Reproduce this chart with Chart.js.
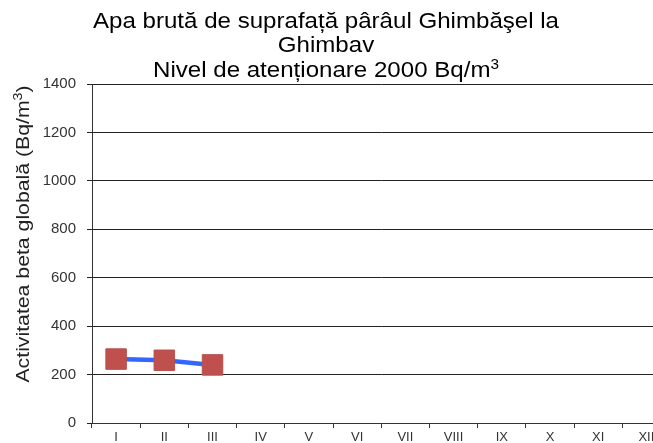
<!DOCTYPE html>
<html>
<head>
<meta charset="utf-8">
<script src="https://cdn.jsdelivr.net/npm/chart.js@4.4.1/dist/chart.umd.min.js"></script>
<style>
    html, body { margin: 0; padding: 0; background: #fff; overflow: hidden; }
    #wrap { width: 686px; height: 443px; position: relative; }
</style>
</head>
<body>
<div id="wrap">
    <canvas id="chart"></canvas>
</div>
<script>
// Chart data
const months = ['I', 'II', 'III', 'IV', 'V', 'VI', 'VII', 'VIII', 'IX', 'X', 'XI', 'XII'];
const betaValues = [264, 259, 240, null, null, null, null, null, null, null, null, null];
const yTicks = [0, 200, 400, 600, 800, 1000, 1200, 1400];

const titleLines = [
    'Apa brută de suprafață pârâul Ghimbăşel la',
    'Ghimbav',
    'Nivel de atenționare 2000 Bq/m'
];
const yLabel = 'Activitatea beta globală (Bq/m';

const FONT = '"Liberation Sans", Arial, sans-serif';

// draw text with an optional superscript, horizontally stretched like the original picture
function drawStretched(ctx, text, sup, size, supSize, supRise, stretch) {
    ctx.font = size + 'px ' + FONT;
    const w = ctx.measureText(text).width;
    let supW = 0;
    let tail = '';
    let tailW = 0;
    if (sup) {
        ctx.font = supSize + 'px ' + FONT;
        supW = ctx.measureText(sup.text).width;
        tail = sup.tail || '';
        ctx.font = size + 'px ' + FONT;
        tailW = ctx.measureText(tail).width;
    }
    ctx.scale(stretch, 1);
    let x = -(w + supW + tailW) / 2;
    ctx.textAlign = 'left';
    ctx.font = size + 'px ' + FONT;
    ctx.fillText(text, x, 0);
    if (sup) {
        x += w;
        ctx.font = supSize + 'px ' + FONT;
        ctx.fillText(sup.text, x, -supRise);
        x += supW;
        ctx.font = size + 'px ' + FONT;
        if (tail) ctx.fillText(tail, x, 0);
    }
}

// Title block and rotated y label (both need a superscript 3)
const textPlugin = {
    id: 'textPlugin',
    afterDraw(chart) {
        const ctx = chart.ctx;
        const cx = 326;
        const baselines = [28, 52, 77];

        titleLines.forEach((line, i) => {
            ctx.save();
            ctx.fillStyle = '#000';
            ctx.translate(cx, baselines[i]);
            drawStretched(ctx, line, i === 2 ? { text: '3' } : null, 22, 14, 8, 1.095);
            ctx.restore();
        });

        // y axis label
        ctx.save();
        ctx.fillStyle = '#222';
        ctx.translate(29, 234);
        ctx.rotate(-Math.PI / 2);
        drawStretched(ctx, yLabel, { text: '3', tail: ')' }, 18, 12, 7, 1.18);
        ctx.restore();
    }
};

const ctx = document.getElementById('chart').getContext('2d');

new Chart(ctx, {
    type: 'line',
    data: {
        labels: months,
        datasets: [{
            data: betaValues,
            borderColor: '#3366FF',
            borderWidth: 4.5,
            backgroundColor: '#C0504D',
            pointBackgroundColor: '#C0504D',
            pointBorderColor: '#B5524F',
            pointBorderWidth: 1,
            pointStyle: 'rect',
            pointRadius: 14.5,
            pointHoverRadius: 14.5,
            tension: 0,
            fill: false
        }]
    },
    options: {
        responsive: true,
        maintainAspectRatio: false,
        animation: false,
        events: [],
        layout: {
            padding: { top: 84, right: 5, bottom: 0, left: 0 }
        },
        plugins: {
            legend: { display: false },
            title: { display: false },
            tooltip: { enabled: false }
        },
        scales: {
            x: {
                offset: true,
                grid: {
                    offset: true,
                    drawOnChartArea: false,
                    tickLength: 5,
                    color: '#333'
                },
                border: { color: '#333', width: 1 },
                ticks: {
                    color: '#333',
                    padding: 2,
                    autoSkip: false,
                    maxRotation: 0,
                    font: { family: FONT, size: 13 }
                },
                afterFit(scale) {
                    scale.height = 20;
                    scale.paddingLeft = 0;
                    scale.paddingRight = 0;
                }
            },
            y: {
                min: 0,
                max: 1400,
                afterBuildTicks(scale) {
                    scale.ticks = yTicks.map(v => ({ value: v }));
                },
                grid: {
                    color: '#222',
                    tickLength: 5,
                    lineWidth: 1
                },
                border: { color: '#333', width: 1 },
                ticks: {
                    color: '#333',
                    padding: 11,
                    font: { family: FONT, size: 15 },
                    callback: v => String(v)
                },
                afterFit(scale) { scale.width = 92; }
            }
        }
    },
    plugins: [textPlugin]
});
</script>
</body>
</html>
